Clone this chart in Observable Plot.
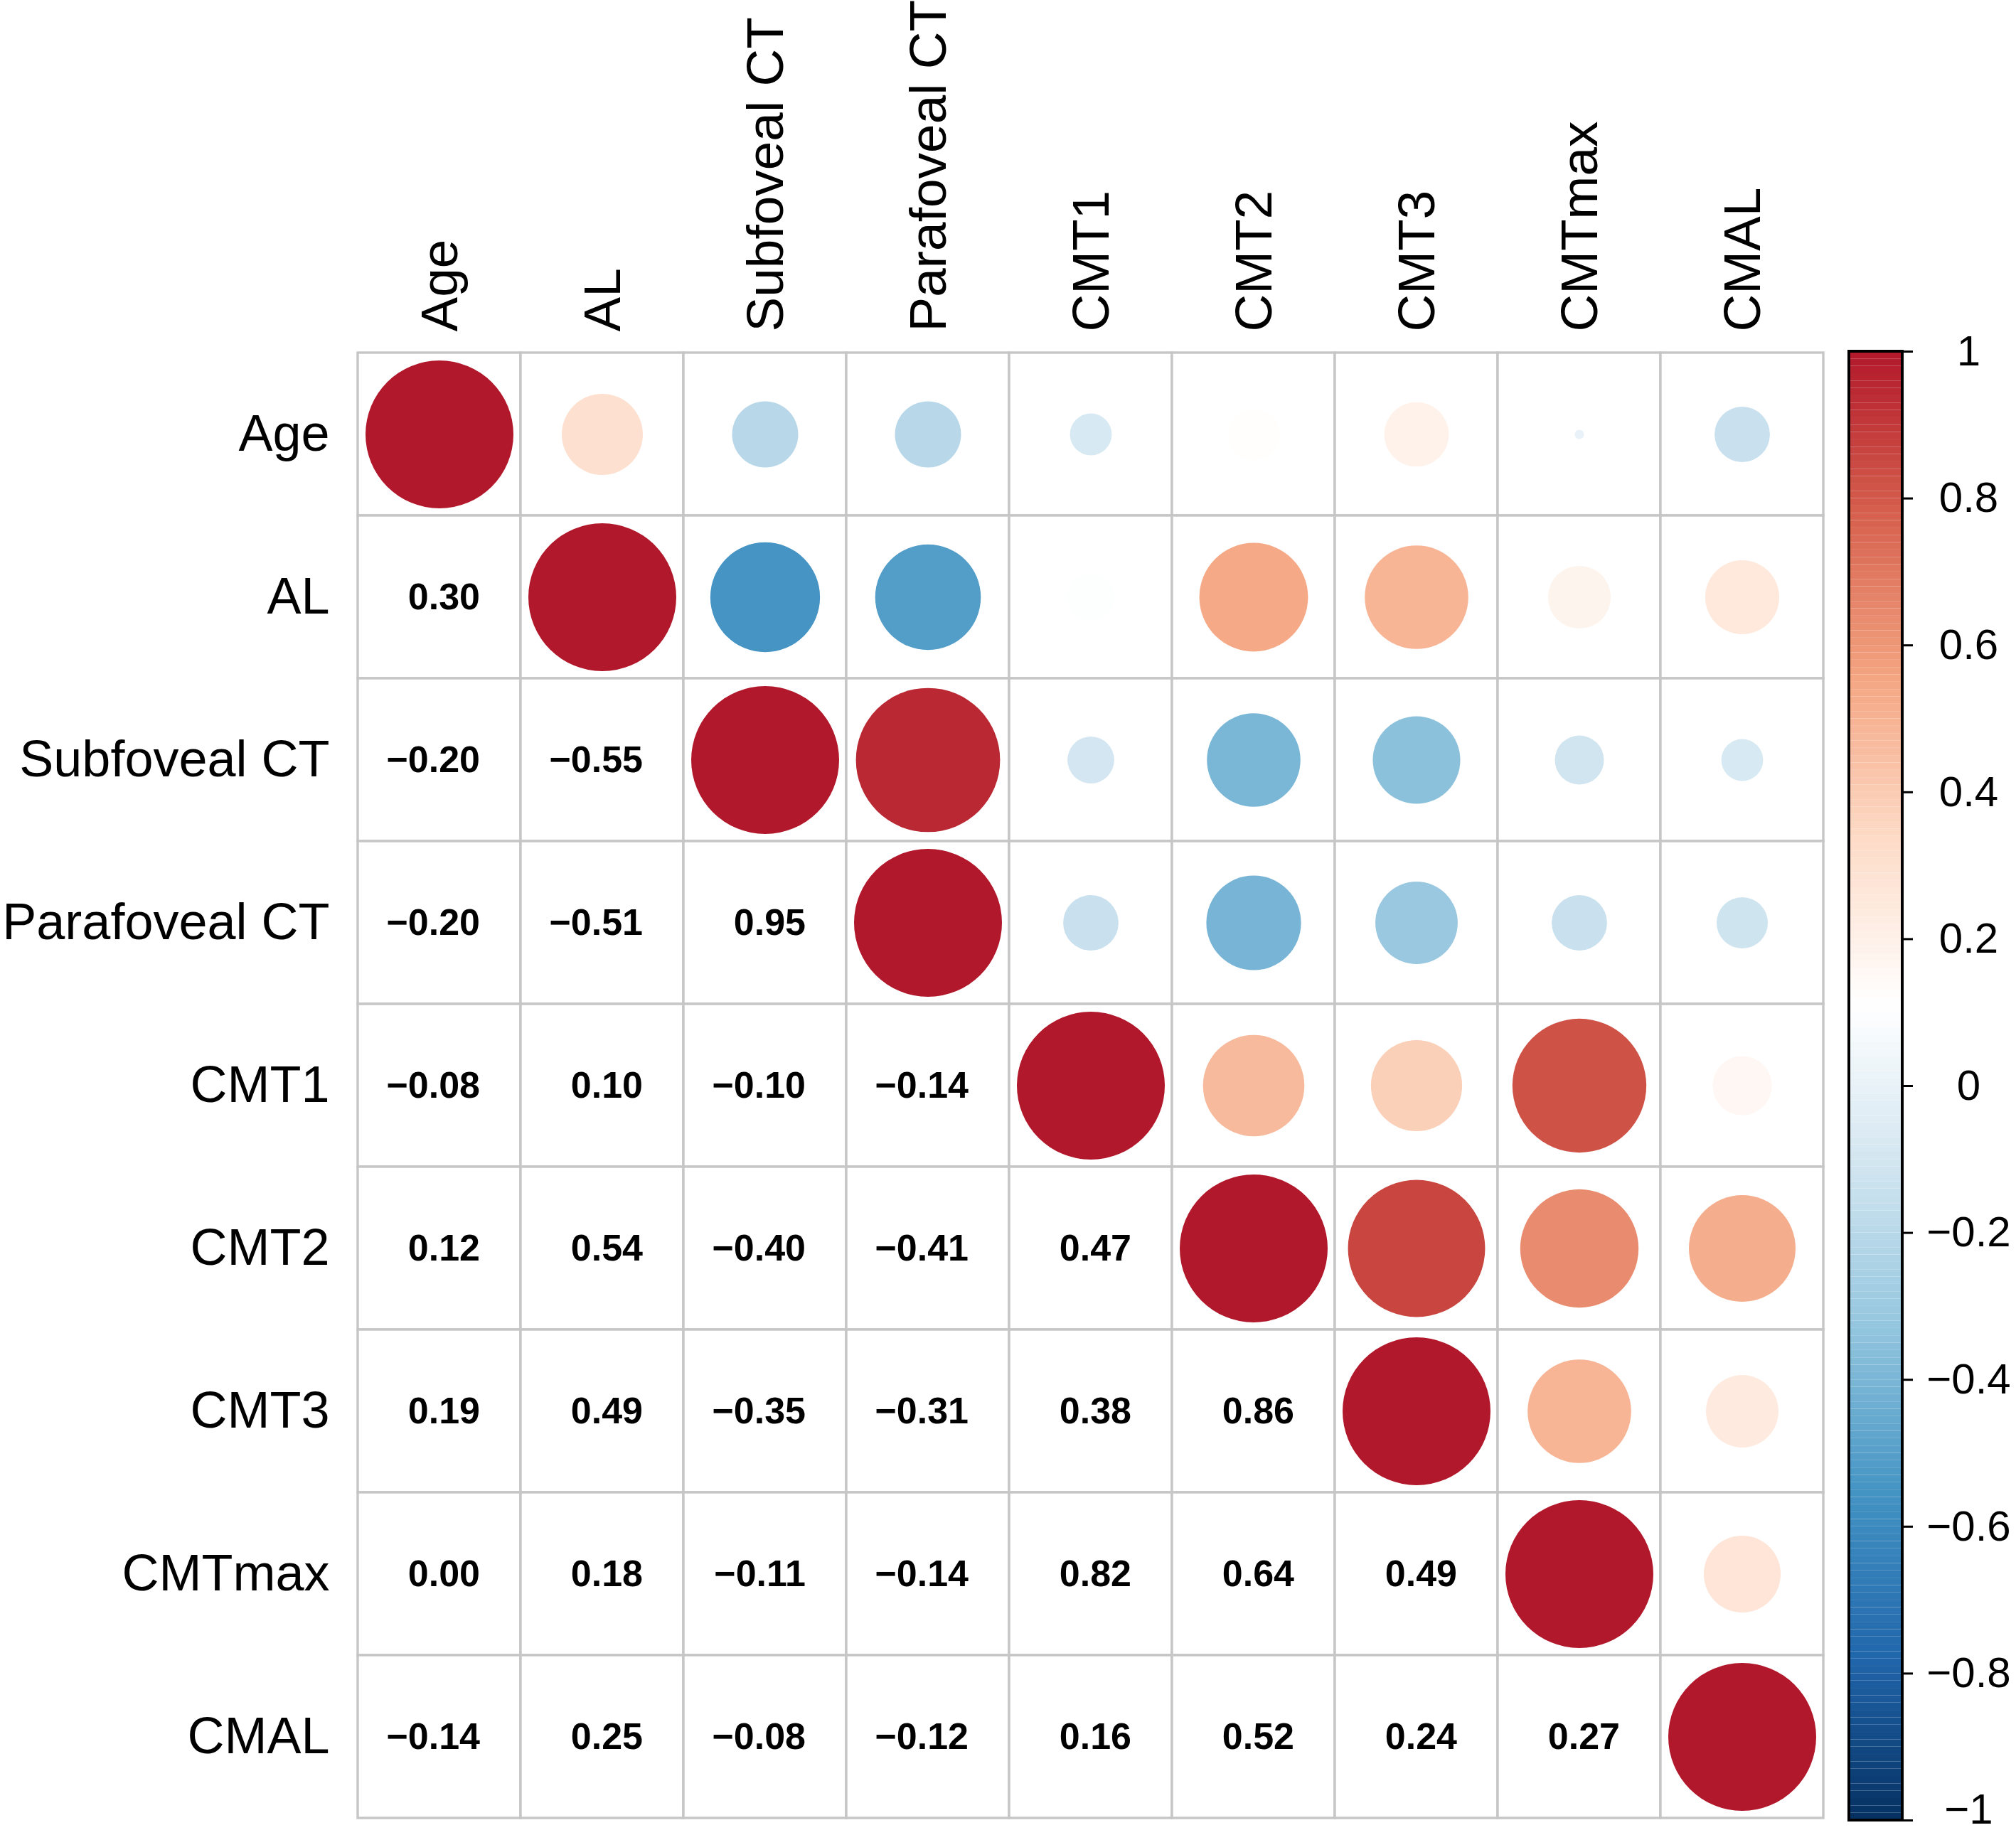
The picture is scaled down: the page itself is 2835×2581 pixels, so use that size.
<!DOCTYPE html>
<html>
<head>
<meta charset="utf-8">
<script src="https://cdn.jsdelivr.net/npm/d3@7"></script>
<script src="https://cdn.jsdelivr.net/npm/@observablehq/plot@0.6"></script>
<style>
  html, body { margin: 0; padding: 0; background: #fff; }
  #wrap { position: relative; width: 2835px; height: 2581px; overflow: hidden; }
  #main { position: absolute; left: 0; top: 0; }
  #bar { position: absolute; left: 2590px; top: 0; }
</style>
</head>
<body>
<div id="wrap"><div id="main"></div><div id="bar"></div></div>
<script>
// Variables (row / column order)
const vars = ["Age", "AL", "Subfoveal CT", "Parafoveal CT", "CMT1", "CMT2", "CMT3", "CMTmax", "CMAL"];

// Lower-triangle correlations, row by row (row i lists columns 0..i-1)
const rowAL        = [0.30];
const rowSubCT     = [-0.20, -0.55];
const rowParaCT    = [-0.20, -0.51, 0.95];
const rowCMT1      = [-0.08, 0.10, -0.10, -0.14];
const rowCMT2      = [0.12, 0.54, -0.40, -0.41, 0.47];
const rowCMT3      = [0.19, 0.49, -0.35, -0.31, 0.38, 0.86];
const rowCMTmax    = [0.004, 0.18, -0.11, -0.14, 0.82, 0.64, 0.49];
const rowCMAL      = [-0.14, 0.25, -0.08, -0.12, 0.16, 0.52, 0.24, 0.27];
const lowerRows = [[], rowAL, rowSubCT, rowParaCT, rowCMT1, rowCMT2, rowCMT3, rowCMTmax, rowCMAL];

// Colour bar tick labels
const barTicks = [-1, -0.8, -0.6, -0.4, -0.2, 0, 0.2, 0.4, 0.6, 0.8, 1];

// Palette stops (bottom = -1 ... top = +1), evenly spread over [-1, 1]
const paletteColors = ["#053061", "#2166AC", "#4393C3", "#92C5DE", "#D1E5F0", "#FFFFFF", "#FDDBC7", "#F4A582", "#D6604D", "#B2182B"];
const paletteStops = paletteColors.map((_, i) => -1 + 2 * i / (paletteColors.length - 1));

// Build full symmetric table
const value = (i, j) => {
  if (i === j) return 1;
  return i > j ? lowerRows[i][j] : lowerRows[j][i];
};
const cells = [];
vars.forEach((r, i) => vars.forEach((c, j) => cells.push({row: r, col: c, i, j, v: value(i, j)})));
const upper = cells.filter(d => d.j >= d.i);
const lower = cells.filter(d => d.j < d.i);

const fmt = v => v.toFixed(2).replace("-", "\u2212");
const colorScale = {type: "linear", domain: paletteStops, range: paletteColors, interpolate: "rgb"};
const fontFamily = "'Liberation Sans', Arial, Helvetica, sans-serif";

const main = Plot.plot({
  width: 2590,
  height: 2581,
  marginLeft: 499,
  marginTop: 494,
  marginRight: 23,
  marginBottom: 23,
  style: {fontFamily, background: "white"},
  x: {domain: vars, axis: null, padding: 0},
  y: {domain: vars, axis: null, padding: 0},
  r: {type: "sqrt", domain: [0, 1], range: [0, 104]},
  color: colorScale,
  marks: [
    Plot.cell(cells, {x: "col", y: "row", fill: "white", stroke: "#c6c6c6", strokeWidth: 3.4, inset: 0}),
    Plot.dot(upper, {x: "col", y: "row", r: d => Math.abs(d.v), fill: "v"}),
    Plot.text(lower, {x: "col", y: "row", text: d => fmt(d.v), textAnchor: "end", dx: 57,
      fontSize: 52, fontWeight: "bold", fill: "black"}),
    Plot.text(vars, {y: d => d, frameAnchor: "left", textAnchor: "end", dx: -36,
      fontSize: 72, fill: "black"}),
    Plot.text(vars, {x: d => d, frameAnchor: "top", rotate: -90, textAnchor: "start", dy: -28, dx: -27,
      fontSize: 73, fill: "black"})
  ]
});
document.getElementById("main").appendChild(main);

// Colour bar
const nSlices = 200;
const slices = d3.range(nSlices).map(k => {
  const y1 = -1 + 2 * k / nSlices, y2 = -1 + 2 * (k + 1) / nSlices;
  return {y1, y2, v: (y1 + y2) / 2};
});
const tickLabel = d => String(d).replace("-", "\u2212");
const bar = Plot.plot({
  width: 245,
  height: 2581,
  marginTop: 494,
  marginBottom: 21,
  marginLeft: 10,
  marginRight: 160,
  style: {fontFamily, background: "white"},
  x: {domain: [0, 1], axis: null},
  y: {domain: [-1, 1], axis: null},
  color: colorScale,
  marks: [
    Plot.rect(slices, {x1: 0, x2: 1, y1: "y1", y2: "y2", fill: "v", inset: 0}),
    Plot.rect([{a: -1, b: 1}], {x1: 0, x2: 1, y1: "a", y2: "b", fill: "none", stroke: "black", strokeWidth: 4}),
    Plot.ruleY(barTicks, {y: d => d, x1: 1, x2: 1.2, stroke: "black", strokeWidth: 3}),
    Plot.text(barTicks.filter(d => d > -1), {y: d => d, x: 2.24, text: tickLabel,
      textAnchor: "middle", fontSize: 60, fill: "black"}),
    Plot.text(barTicks.filter(d => d === -1), {y: d => d, x: 2.24, text: tickLabel, dy: -15,
      textAnchor: "middle", fontSize: 60, fill: "black"})
  ]
});
document.getElementById("bar").appendChild(bar);
</script>
</body>
</html>
